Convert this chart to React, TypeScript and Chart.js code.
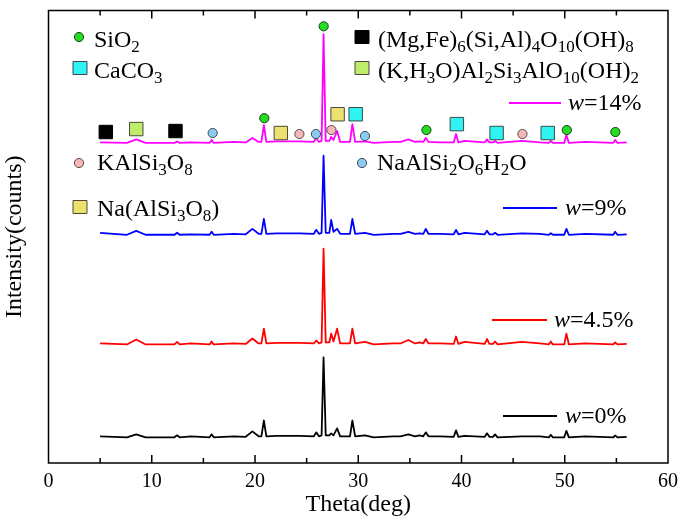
import React, { useEffect, useRef } from 'react';
import { Chart, registerables } from 'chart.js';
Chart.register(...registerables);

// 2-theta grid shared by the four patterns (deg)
const theta = [
  5.0, 7.6, 8.5, 9.4,
  12.2, 12.45, 12.7, 13.8,
  15.6, 15.8, 16.0, 17.95,
  19.1, 19.75, 20.35, 20.62, 20.86, 21.1,
  22.1, 23.05, 24.35, 25.7, 25.93, 26.2,
  26.45, 26.64, 26.85, 27.2, 27.38, 27.6, 27.95, 28.25,
  29.2, 29.43, 29.7, 30.65, 31.5, 33.4,
  34.1, 34.85, 35.5, 35.95, 36.3, 36.54, 36.8, 37.9,
  39.25, 39.47, 39.7, 40.3,
  42.25, 42.47, 42.7, 43.05, 43.25, 43.5,
  45.85, 47.6, 48.45, 48.65, 48.85,
  49.95, 50.16, 50.4, 52.0,
  54.7, 54.88, 55.1, 56.0,
];

// intensities above each pattern's own baseline
const countsW0 = [
  1, 0, 3, 0,
  0, 2, 0, 1,
  0, 3, 0, 1,
  0.5, 6, 1, 1, 17, 1,
  1.5, 1.5, 1.5, 1, 5, 1,
  2, 81, 2, 2, 4, 2, 9, 1,
  1, 17, 1, 2, 0, 1,
  1, 3, 1, 2, 1, 5, 1, 1,
  0.5, 7, 0.5, 1.5,
  0.5, 4, 0.5, 0.5, 3, 0,
  1, 1, 0, 2.5, 0,
  0, 6.5, 0, 1,
  0, 2, 0, 0.5,
];
const countsW45 = [
  1, 0, 5, 0,
  0, 2.5, 0, 1,
  0, 3, 0, 1,
  0.5, 6, 1, 1, 16, 1,
  1.5, 1.5, 1.5, 1, 4, 1,
  2, 97, 2, 2, 11, 3, 16, 1,
  1, 16, 1, 2.5, 0, 1,
  1, 4.5, 1, 2, 1, 5.5, 1, 1,
  0.5, 8, 0.5, 2.5,
  0.5, 5.5, 0.5, 0.5, 3, 0,
  2.5, 1, 0, 3, 0,
  0, 11, 0, 1,
  0, 2, 0, 0.5,
];
const countsW9 = [
  2, 0, 4, 0,
  0, 2, 0, 0.5,
  0, 3, 0, 1,
  0.5, 6, 1, 1, 16, 1,
  1.5, 1.5, 1.5, 1, 5, 1,
  2, 80, 2, 2, 15, 3, 6, 1,
  1, 16, 1, 2, 0, 1,
  1, 3, 1, 1.5, 1, 6, 1, 1,
  0.5, 5, 0.5, 2,
  0.5, 4, 0.5, 0.5, 2, 0,
  1.5, 1, 0, 1.5, 0,
  0, 6, 0, 1,
  0, 3, 0, 0.5,
];
const countsW14 = [
  0.5, 0, 3.5, 0,
  0, 1.5, 0, 0.5,
  0, 3, 0, 1,
  0.5, 5, 1, 1, 18, 1,
  1.5, 1.5, 1.5, 1, 5, 1,
  2, 110, 2, 2, 6, 3, 12, 1,
  1, 19, 1, 1.5, 0, 1,
  1, 3.5, 1, 1.5, 1, 5, 1, 0.5,
  0.5, 9, 0.5, 2,
  0.5, 3.5, 0.5, 0.5, 2, 0,
  2, 0.5, 0, 2, 0,
  0, 8, 0, 1,
  0, 3, 0, 0.5,
];

const traceCounts = [countsW0, countsW45, countsW9, countsW14];
const traceOffsets = [26, 120, 231, 324];
const traceLabels = ['*w*=0%', '*w*=4.5%', '*w*=9%', '*w*=14%'];
const traceColors = ['#000000', '#ff0000', '#0000ff', '#ff00ff'];

// phase markers on the w=14% pattern
const sio2Theta = [20.9, 26.65, 36.6, 50.2, 54.9];
const sio2Y = [349, 442, 337, 337, 335];
const chloriteTheta = [5.55, 12.3];
const chloriteY = [335, 336];
const calciteTheta = [29.75, 39.55, 43.4, 48.35];
const calciteY = [353, 343, 334, 334];
const illiteTheta = [8.5];
const illiteY = [338];
const orthoclaseTheta = [24.3, 27.4, 45.9];
const orthoclaseY = [333, 337, 333];
const analcimeTheta = [15.9, 25.9, 30.65];
const analcimeY = [334, 333, 331];
const albiteTheta = [22.5, 28.0];
const albiteY = [334, 353];

const xTicks = [0, 10, 20, 30, 40, 50, 60];

const SERIF = '"Liberation Serif", "Times New Roman", serif';

type Phase = {
  name: string;
  shape: 'circle' | 'rect';
  fill: string;
  stroke: string;
  xs: number[];
  ys: number[];
  legend: [number, number, number, number]; // marker x, y, text x, baseline
};

const phases: Phase[] = [
  { name: 'SiO_2', shape: 'circle', fill: '#22dd22', stroke: '#1d3d1d', xs: sio2Theta, ys: sio2Y, legend: [79, 37, 94, 47] },
  { name: '(Mg,Fe)_6(Si,Al)_4O_{10}(OH)_8', shape: 'rect', fill: '#000000', stroke: '#000000', xs: chloriteTheta, ys: chloriteY, legend: [362, 37, 378, 47] },
  { name: 'CaCO_3', shape: 'rect', fill: '#30f4f4', stroke: '#3a4a4a', xs: calciteTheta, ys: calciteY, legend: [80, 68, 94, 78] },
  { name: '(K,H_3O)Al_2Si_3AlO_{10}(OH)_2', shape: 'rect', fill: '#c0ec6c', stroke: '#4a4a3a', xs: illiteTheta, ys: illiteY, legend: [362, 68, 378, 78] },
  { name: 'KAlSi_3O_8', shape: 'circle', fill: '#f5b8b8', stroke: '#5a4a4a', xs: orthoclaseTheta, ys: orthoclaseY, legend: [79, 163, 97, 170] },
  { name: 'NaAlSi_2O_6H_2O', shape: 'circle', fill: '#8ccbf0', stroke: '#3a4a5a', xs: analcimeTheta, ys: analcimeY, legend: [362, 163, 377, 170] },
  { name: 'Na(AlSi_3O_8)', shape: 'rect', fill: '#ece06e', stroke: '#4a4a3a', xs: albiteTheta, ys: albiteY, legend: [80, 207, 97, 216] },
];

// legend line segments for the patterns: x0, x1, y, text x, baseline
const traceLegend = [
  [503, 557, 416, 565, 423],
  [492, 547, 320, 554, 327],
  [503, 557, 208, 565, 215],
  [509, 561, 103, 568, 110],
];

// text with _x / _{xx} subscripts and *italic* parts
function drawRich(ctx: CanvasRenderingContext2D, text: string, x: number, y: number, size: number) {
  const re = /_\{([^}]*)\}|_(.)|\*([^*]*)\*|([^_*]+)/g;
  let cx = x;
  let m: RegExpExecArray | null;
  ctx.textBaseline = 'alphabetic';
  ctx.textAlign = 'left';
  while ((m = re.exec(text))) {
    let s: string;
    let dy = 0;
    if (m[1] !== undefined || m[2] !== undefined) {
      s = (m[1] ?? m[2]) as string;
      ctx.font = `${Math.round(size * 0.7)}px ${SERIF}`;
      dy = size * 0.22;
    } else if (m[3] !== undefined) {
      s = m[3];
      ctx.font = `italic ${size}px ${SERIF}`;
    } else {
      s = m[4];
      ctx.font = `${size}px ${SERIF}`;
    }
    ctx.fillText(s, cx, y + dy);
    cx += ctx.measureText(s).width;
  }
}

function drawMarker(ctx: CanvasRenderingContext2D, p: Phase, x: number, y: number) {
  ctx.beginPath();
  if (p.shape === 'circle') ctx.arc(x, y, 4.6, 0, Math.PI * 2);
  else ctx.rect(x - 7, y - 6.5, 14, 13);
  ctx.fillStyle = p.fill;
  ctx.fill();
  ctx.lineWidth = 1;
  ctx.strokeStyle = p.stroke;
  ctx.stroke();
}

const framePlugin = {
  id: 'frameAndLegend',
  afterDraw(chart: Chart) {
    const { ctx, chartArea } = chart;
    const { left, right, top, bottom } = chartArea;
    const xs = chart.scales.x;
    ctx.save();
    ctx.strokeStyle = '#000';
    ctx.lineWidth = 1.5;
    ctx.strokeRect(left, top, right - left, bottom - top);
    // inward ticks on bottom and top
    for (let v = 5; v < 60; v += 5) {
      const px = xs.getPixelForValue(v);
      const len = v % 10 === 0 ? 8 : 5;
      ctx.beginPath();
      ctx.moveTo(px, bottom);
      ctx.lineTo(px, bottom - len);
      ctx.moveTo(px, top);
      ctx.lineTo(px, top + len);
      ctx.stroke();
    }
    // phase legend
    phases.forEach((p) => {
      const [mx, my, tx, ty] = p.legend;
      drawMarker(ctx, p, mx, my);
      ctx.fillStyle = '#000';
      drawRich(ctx, p.name, tx, ty, 24);
    });
    // pattern legend
    traceLegend.forEach(([x0, x1, y, tx, ty], i) => {
      ctx.beginPath();
      ctx.strokeStyle = traceColors[i];
      ctx.lineWidth = 1.8;
      ctx.moveTo(x0, y);
      ctx.lineTo(x1, y);
      ctx.stroke();
      ctx.fillStyle = '#000';
      drawRich(ctx, traceLabels[i], tx, ty, 24);
    });
    ctx.restore();
  },
};

const App: React.FC = () => {
  const canvasRef = useRef<HTMLCanvasElement>(null);
  const chartRef = useRef<Chart | null>(null);

  useEffect(() => {
    if (!canvasRef.current) return;
    if (chartRef.current) chartRef.current.destroy();

    const traceSets = traceCounts.map((counts, i) => ({
      type: 'line' as const,
      data: theta.map((t, j) => ({ x: t, y: traceOffsets[i] + counts[j] })),
      borderColor: traceColors[i],
      borderWidth: 1.8,
      borderJoinStyle: 'round' as const,
      pointRadius: 0,
      tension: 0,
      fill: false,
      order: 1,
    }));

    const markerSets = phases.map((p) => ({
      type: 'line' as const,
      data: p.xs.map((t, j) => ({ x: t, y: p.ys[j] })),
      showLine: false,
      pointStyle: p.shape,
      pointRadius: p.shape === 'circle' ? 4.6 : 9.5,
      pointBackgroundColor: p.fill,
      pointBorderColor: p.stroke,
      pointBorderWidth: 1,
      order: 0,
    }));

    chartRef.current = new Chart(canvasRef.current, {
      type: 'line',
      data: { datasets: [...markerSets, ...traceSets] as any },
      options: {
        animation: false,
        responsive: false,
        events: [],
        layout: { padding: { top: 5, right: 13.6, left: 0, bottom: 0 } },
        plugins: {
          legend: { display: false },
          tooltip: { enabled: false },
        },
        scales: {
          x: {
            type: 'linear',
            min: 0,
            max: 60,
            afterBuildTicks: (scale) => {
              scale.ticks = xTicks.map((v) => ({ value: v }));
            },
            afterFit: (scale) => {
              scale.height = 56;
            },
            ticks: {
              color: '#000',
              padding: 7,
              maxRotation: 0,
              font: { family: SERIF, size: 20 },
            },
            grid: { display: false, drawTicks: false },
            border: { display: false },
            title: {
              display: true,
              text: 'Theta(deg)',
              color: '#000',
              padding: { top: 0, bottom: 0 },
              font: { family: SERIF, size: 24 },
            },
          },
          y: {
            type: 'linear',
            min: 0,
            max: 458,
            afterFit: (scale) => {
              scale.width = 48.5;
            },
            ticks: { display: false },
            grid: { display: false, drawTicks: false },
            border: { display: false },
            title: {
              display: true,
              text: 'Intensity(counts)',
              color: '#000',
              padding: { top: 0, bottom: 0 },
              font: { family: SERIF, size: 24 },
            },
          },
        },
      },
      plugins: [framePlugin],
    });

    return () => {
      if (chartRef.current) {
        chartRef.current.destroy();
        chartRef.current = null;
      }
    };
  }, []);

  return (
    <div style={{ position: 'fixed', left: 0, top: 0, width: 685, height: 519, background: '#fff' }}>
      <canvas ref={canvasRef} width={685} height={519} />
    </div>
  );
};

export default App;
